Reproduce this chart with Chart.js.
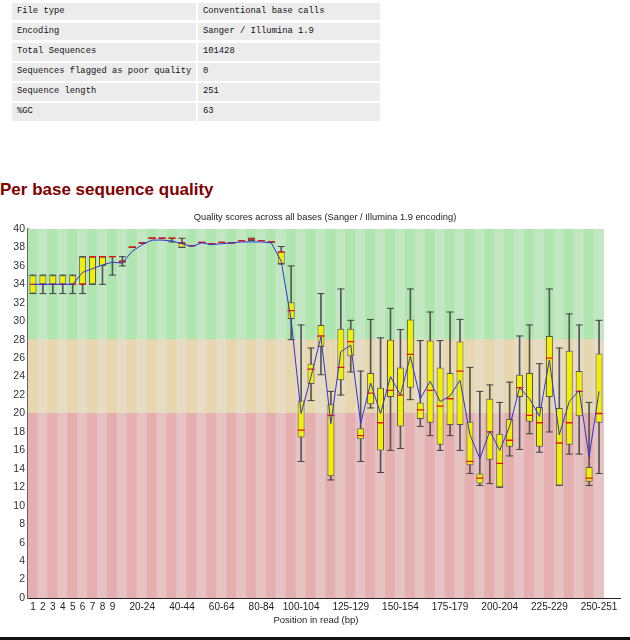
<!DOCTYPE html>
<html>
<head>
<meta charset="utf-8">
<script src="https://cdn.jsdelivr.net/npm/chart.js@4.4.1/dist/chart.umd.min.js"></script>
<style>
  html, body { margin: 0; padding: 0; background: #fff; width: 630px; height: 640px; overflow: hidden; position: relative; }
  .row { position: absolute; left: 12px; height: 17.6px; }
  .cell { position: absolute; top: 0; height: 17.6px; background: #ececec; font-family: "Liberation Mono", "Courier New", monospace; font-size: 8.8px; line-height: 17.6px; color: #111; padding-left: 5px; box-sizing: border-box; white-space: nowrap; }
  .c1 { left: 0; width: 184px; }
  .c2 { left: 186px; width: 182px; }
  #heading { position: absolute; left: 0; top: 180px; font-family: "Liberation Sans", Arial, sans-serif; font-weight: bold; font-size: 17px; line-height: 20px; color: #800000; white-space: nowrap; }
  #ctitle { position: absolute; left: 325px; top: 211px; transform: translateX(-50%); font-family: "Liberation Sans", Arial, sans-serif; font-size: 9.3px; line-height: 12px; color: #222; white-space: nowrap; }
  #wrap { position: absolute; left: 0; top: 205px; width: 630px; height: 432px; }
  #bar { position: absolute; left: 0; top: 637px; width: 630px; height: 3px; background: #111; }
</style>
</head>
<body>
<div id="stats"></div>
<div id="heading">Per base sequence quality</div>
<div id="wrap"><canvas id="c" width="630" height="432"></canvas></div>
<div id="ctitle">Quality scores across all bases (Sanger / Illumina 1.9 encoding)</div>
<div id="bar"></div>
<script>
// ---- basic statistics table ----
const statNames = ["File type", "Encoding", "Total Sequences", "Sequences flagged as poor quality", "Sequence length", "%GC"];
const statValues = ["Conventional base calls", "Sanger / Illumina 1.9", "101428", "0", "251", "63"];

// ---- chart data ----
const categories = ["1","2","3","4","5","6","7","8","9",
  "10-14","15-19","20-24","25-29","30-34","35-39","40-44","45-49","50-54","55-59",
  "60-64","65-69","70-74","75-79","80-84","85-89","90-94","95-99","100-104","105-109",
  "110-114","115-119","120-124","125-129","130-134","135-139","140-144","145-149","150-154","155-159",
  "160-164","165-169","170-174","175-179","180-184","185-189","190-194","195-199","200-204","205-209",
  "210-214","215-219","220-224","225-229","230-234","235-239","240-244","245-249","250-251"];
const shownLabels = ["1","2","3","4","5","6","7","8","9","20-24","40-44","60-64","80-84","100-104","125-129","150-154","175-179","200-204","225-229","250-251"];

const lowerQuartile = [33,34,34,34,34,34,34,36,37,
  36.3,38,38.5,39,39,39,38.0,38.2,38.55,38.4,
  38.55,38.5,38.73,38.75,38.75,38.6,36.2,30.25,17.4,23.2,
  27.2,13.2,23.6,26.2,17.2,21.0,16.0,21.8,18.6,22.8,
  19.4,19.0,16.6,18.75,18.75,14.4,12.4,15.0,12.0,16.4,
  21.8,19.1,16.4,21.8,12.2,16.6,19.7,12.6,19.0];
const upperQuartile = [35,35,35,35,35,37,37,37,37,
  36.6,38,38.5,39,39,39,38.6,38.2,38.55,38.4,
  38.55,38.5,38.73,39,38.75,38.6,37.6,32.05,21.4,25.4,
  29.6,21.0,29.2,29.2,18.4,24.4,22.8,28.0,25.0,30.2,
  21.2,27.9,25.0,24.4,27.8,19.1,13.5,21.6,17.8,19.4,
  24.2,24.4,20.7,28.4,20.6,26.8,24.6,14.2,26.5];
const medianQ = [34,34,34,34,34,34,37,37,37,
  36.5,38.05,38.45,39,39,39,38.45,38.2,38.55,38.4,
  38.55,38.5,38.73,38.9,38.75,38.6,37.5,31.15,18.2,24.8,
  28.4,19.8,25.0,27.8,17.6,22.2,19.0,22.5,22.0,26.4,
  20.4,22.5,20.8,21.6,24.6,14.8,13.0,18.0,14.6,17.1,
  22.8,19.8,19.0,26.0,16.8,19.0,22.4,13.0,20.0];
const meanQ = [34,34,34,34,34,35.3,35.7,36.1,36.4,
  36.3,37.6,38.3,38.8,38.8,38.7,38.4,38.1,38.5,38.3,
  38.4,38.5,38.6,38.6,38.6,38.5,36.5,30.1,20.0,24.0,
  28.3,18.9,26.7,27.4,18.9,23.3,20.0,24.0,22.0,26.2,
  21.6,23.5,21.3,21.9,23.6,17.7,15.1,18.1,16.0,18.6,
  22.8,21.6,19.7,25.8,17.7,21.3,22.5,15.3,22.4];
const lowerWhisker = [33,33,33,33,33,33,34,34,35,
  36,38,38.5,39,39,38.6,38,38.2,38.55,38.4,
  38.55,38.5,38.73,38.75,38.75,38.6,36.2,28.0,14.8,21.4,
  24.2,12.8,22.0,24.5,14.8,20.6,13.6,16.0,16.2,21.5,
  18.6,17.6,16.0,17.6,16.0,13.5,12.2,12.4,12.0,15.4,
  16.1,17.8,15.8,18.0,12.2,15.6,15.6,12.2,13.5];
const upperWhisker = [35,35,35,35,35,37,37,37,37,
  37,38,38.5,39,39,39,39,38.2,38.55,38.4,
  38.55,38.5,38.73,39,38.75,38.6,38.1,36.0,29.6,27.1,
  33.0,22.4,33.5,30.1,24.6,30.2,28.2,31.4,29.1,33.5,
  27.9,31.0,27.9,31.0,30.2,25.0,22.4,23.1,21.2,23.4,
  28.4,29.6,25.4,33.5,27.1,30.8,29.6,21.2,30.1];

// quality zones (phred score thresholds)
const zoneBounds = [0, 20, 28, 40];
const yTicksMax = 40, yTickStep = 2;

// ---- build stats table ----
const stats = document.getElementById('stats');
statNames.forEach((n, r) => {
  const row = document.createElement('div');
  row.className = 'row';
  row.style.top = (2.7 + r * 20.15) + 'px';
  row.innerHTML = '<div class="cell c1"></div><div class="cell c2"></div>';
  row.children[0].textContent = n;
  row.children[1].textContent = statValues[r];
  stats.appendChild(row);
});

// ---- chart ----
const zoneColors = [
  ['rgb(230,175,175)', 'rgb(230,195,195)'],
  ['rgb(230,215,175)', 'rgb(230,220,195)'],
  ['rgb(175,230,175)', 'rgb(195,230,195)']
];
const bandDatasets = zoneColors.map((cols, z) => ({
  type: 'bar',
  label: 'zone' + z,
  data: categories.map(() => [zoneBounds[z], zoneBounds[z + 1]]),
  backgroundColor: ctx => cols[ctx.dataIndex % 2],
  borderWidth: 0,
  barPercentage: 1,
  categoryPercentage: 1,
  inflateAmount: 0.5,
  grouped: false,
  order: 10
}));

const FONT = '"Liberation Sans", Arial, sans-serif';

const axisExtend = {
  id: 'axisExtend',
  afterDraw(chart) {
    const { ctx, chartArea } = chart;
    ctx.save();
    ctx.strokeStyle = '#222';
    ctx.lineWidth = 1;
    ctx.beginPath();
    ctx.moveTo(chartArea.right - 1, Math.round(chartArea.bottom) + 0.5);
    ctx.lineTo(chartArea.right + 17, Math.round(chartArea.bottom) + 0.5);
    ctx.stroke();
    ctx.restore();
  }
};

new Chart(document.getElementById('c'), {
  type: 'bar',
  data: {
    labels: categories,
    datasets: [
      {
        type: 'line', label: 'mean', data: meanQ,
        borderColor: 'rgb(50,50,220)', borderWidth: 1, pointRadius: 0,
        tension: 0, fill: false, order: 1
      },
      {
        type: 'line', label: 'median', data: medianQ, showLine: false,
        pointStyle: 'line', pointRadius: 3.5, pointBorderColor: 'rgb(230,20,20)',
        pointBorderWidth: 1.3, order: 2
      },
      {
        type: 'line', label: 'hiCap', data: upperWhisker, showLine: false,
        pointStyle: 'line', pointRadius: 3.5, pointBorderColor: '#444',
        pointBorderWidth: 1, order: 4
      },
      {
        type: 'line', label: 'loCap', data: lowerWhisker, showLine: false,
        pointStyle: 'line', pointRadius: 3.5, pointBorderColor: '#444',
        pointBorderWidth: 1, order: 4
      },
      {
        type: 'bar', label: 'box',
        data: categories.map((c, i) => [lowerQuartile[i], upperQuartile[i]]),
        backgroundColor: 'rgb(240,240,0)', borderColor: '#555', borderWidth: 1,
        borderSkipped: false,
        barPercentage: 0.7, categoryPercentage: 1, grouped: false, order: 3
      },
      {
        type: 'bar', label: 'whisker',
        data: categories.map((c, i) => [lowerWhisker[i], upperWhisker[i]]),
        backgroundColor: '#555', borderWidth: 0, barThickness: 1,
        grouped: false, order: 5
      },
      ...bandDatasets
    ]
  },
  options: {
    responsive: false,
    animation: false,
    events: [],
    layout: { padding: { left: 0, right: 26, top: 24, bottom: 0 } },
    plugins: {
      legend: { display: false },
      tooltip: { enabled: false },
      title: { display: false }
    },
    scales: {
      x: {
        offset: true,
        grid: { display: false, drawTicks: false },
        border: { display: true, color: '#222', width: 1 },
        ticks: {
          autoSkip: false, maxRotation: 0, minRotation: 0, padding: 3,
          font: { family: FONT, size: 10 }, color: '#222',
          callback: (v, i) => shownLabels.includes(categories[i]) ? categories[i] : ''
        },
        title: {
          display: true, text: 'Position in read (bp)',
          font: { family: FONT, size: 9.5 }, color: '#222',
          padding: { top: 0, bottom: 11 }
        },
        afterFit: s => { s.height = 39; }
      },
      y: {
        min: 0, max: yTicksMax,
        grid: { display: false, drawTicks: false },
        border: { display: true, color: '#666', width: 1.5 },
        ticks: {
          stepSize: yTickStep, padding: 3,
          font: { family: FONT, size: 10.5 }, color: '#333'
        },
        afterFit: s => { s.width = 28; }
      }
    }
  },
  plugins: [axisExtend]
});
</script>
</body>
</html>
